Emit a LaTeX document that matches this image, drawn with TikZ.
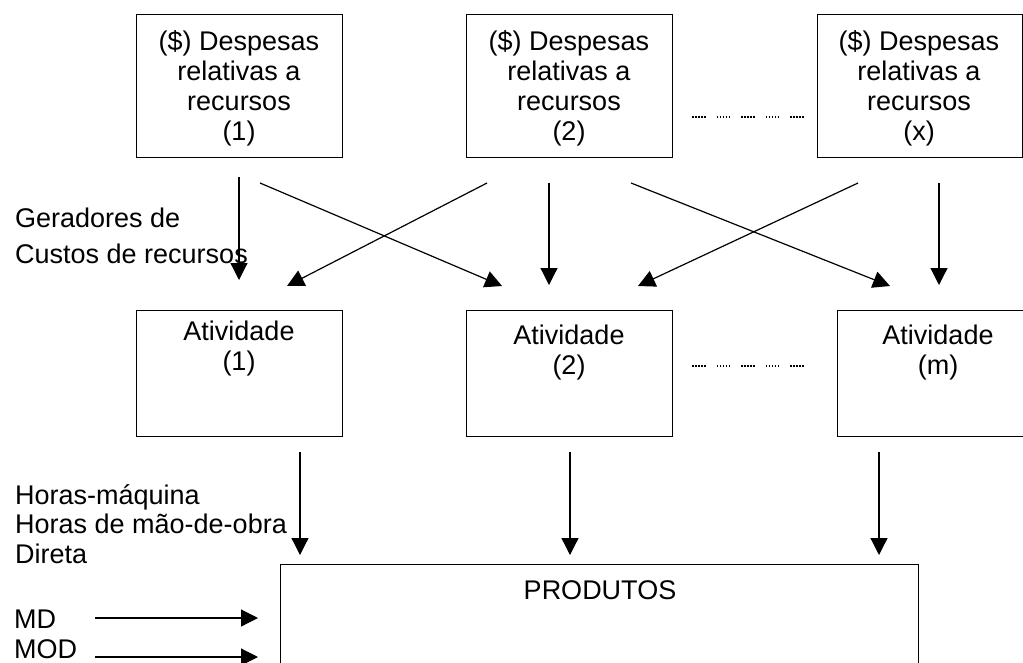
\documentclass[tikz,border=0pt]{standalone}
\usepackage{fontspec}
\setmainfont{Liberation Sans}
\usetikzlibrary{arrows.meta}
\tikzset{
  box/.style={draw, line width=1.3pt, inner sep=0pt, anchor=north west},
  lbl/.style={font=\fontsize{27}{30}\selectfont, inner sep=0pt, align=center},
  arr/.style={line width=1.2pt, -{Triangle[length=17pt,width=17pt]}},
  dotline/.style={line width=1.2pt, dash pattern=on 1.5pt off 1.5pt on 1.5pt off 1.5pt on 1.5pt off 1.5pt on 1.5pt off 1.5pt on 1.5pt off 11pt}
}
\begin{document}
\begin{tikzpicture}[x=1pt,y=-1pt]
\useasboundingbox (0,0) rectangle (1023,662);
\clip (0,0) rectangle (1023,662);
\fill[white] (0,0) rectangle (1023,662);
% top boxes
\node[box, minimum width=206pt, minimum height=143pt] (r1) at (136,14) {};
\node[box, minimum width=206pt, minimum height=143pt] (r2) at (466,14) {};
\node[box, minimum width=205pt, minimum height=143pt] (r3) at (817,14) {};
\node[lbl] (r1t) at (239,88) {(\$) Despesas\\relativas a\\recursos\\(1)};
\node[lbl] (r2t) at (569,88) {(\$) Despesas\\relativas a\\recursos\\(2)};
\node[lbl] (r3t) at (919,88) {(\$) Despesas\\relativas a\\recursos\\(x)};
% activity boxes
\node[box, minimum width=206pt, minimum height=126pt] (a1) at (136,310) {};
\node[box, minimum width=206pt, minimum height=126pt] (a2) at (466,310) {};
\node[box, minimum width=230pt, minimum height=126pt] (a3) at (837,310) {};
\node[lbl] (a1t) at (239,349) {Atividade\\(1)};
\node[lbl] (a2t) at (569,353) {Atividade\\(2)};
\node[lbl] (a3t) at (938,353) {Atividade\\(m)};
% products
\node[box, minimum width=638pt, minimum height=200pt] (p) at (280,564) {};
\node[lbl] (pt) at (600,590) {PRODUTOS};
% left labels
\node[lbl, align=left, anchor=west, font=\fontsize{27}{36}\selectfont] (gen) at (15,236) {Geradores de\\Custos de recursos};
\node[lbl, align=left, anchor=west, font=\fontsize{27}{29.5}\selectfont] (hor) at (15,524) {Horas-máquina\\Horas de mão-de-obra\\Direta};
\node[lbl, anchor=west] (md) at (14,619) {MD};
\node[lbl, anchor=west] (mod) at (14,649) {MOD};
% coordinates for connectors
\coordinate (v1s) at (239,177); \coordinate (v1e) at (239,280);
\coordinate (v2s) at (549,183); \coordinate (v2e) at (549,285);
\coordinate (v3s) at (939,183); \coordinate (v3e) at (939,285);
\coordinate (d1s) at (260,183); \coordinate (d1e) at (502,286);
\coordinate (d2s) at (487,183); \coordinate (d2e) at (287,286);
\coordinate (d3s) at (631,183); \coordinate (d3e) at (890,286);
\coordinate (d4s) at (858,183); \coordinate (d4e) at (638,286);
\coordinate (b1s) at (300,452); \coordinate (b1e) at (300,555);
\coordinate (b2s) at (570,452); \coordinate (b2e) at (570,555);
\coordinate (b3s) at (879,452); \coordinate (b3e) at (879,555);
\coordinate (mds) at (95,618); \coordinate (mde) at (258,618);
\coordinate (mods) at (95,657); \coordinate (mode) at (258,657);
\coordinate (t1) at (692,117); \coordinate (t2) at (810,117);
\coordinate (m1) at (692,366); \coordinate (m2) at (810,366);
\draw[arr] (v1s) -- (v1e);
\draw[arr] (v2s) -- (v2e);
\draw[arr] (v3s) -- (v3e);
\draw[arr] (d1s) -- (d1e);
\draw[arr] (d2s) -- (d2e);
\draw[arr] (d3s) -- (d3e);
\draw[arr] (d4s) -- (d4e);
\draw[arr] (b1s) -- (b1e);
\draw[arr] (b2s) -- (b2e);
\draw[arr] (b3s) -- (b3e);
\draw[arr] (mds) -- (mde);
\draw[arr] (mods) -- (mode);
\draw[dotline] (t1) -- (t2);
\draw[dotline] (m1) -- (m2);
\end{tikzpicture}
\end{document}
